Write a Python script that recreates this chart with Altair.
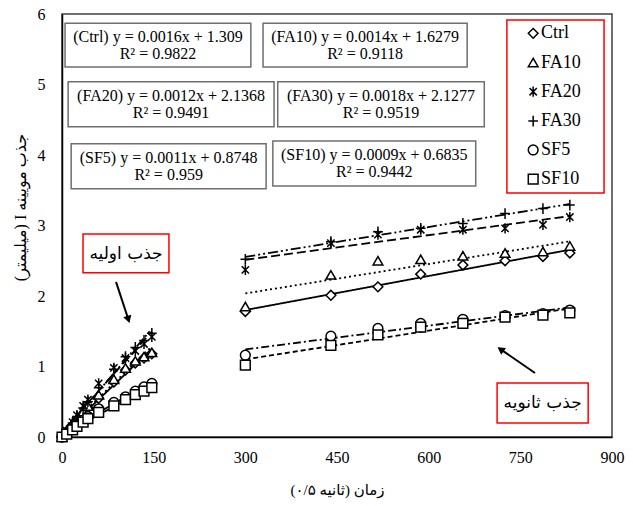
import altair as alt
import pandas as pd

# Capillary absorption I (mm) against square root of time (s^0.5)
series = ["Ctrl", "FA10", "FA20", "FA30", "SF5", "SF10"]

t_initial = [0, 7.7, 17.3, 24.5, 34.6, 42.4, 60.0, 84.9, 103.9, 120.0, 134.2, 147.0]
t_later = [300, 440, 517, 587, 656, 725, 787, 831]

I_initial = {
    "Ctrl": [0, 0.07, 0.17, 0.24, 0.33, 0.41, 0.55, 0.78, 0.95, 1.05, 1.12, 1.18],
    "FA10": [0, 0.08, 0.18, 0.26, 0.36, 0.44, 0.60, 0.82, 0.98, 1.08, 1.14, 1.20],
    "FA20": [0, 0.09, 0.21, 0.31, 0.44, 0.53, 0.76, 0.98, 1.12, 1.22, 1.32, 1.42],
    "FA30": [0, 0.09, 0.20, 0.29, 0.41, 0.50, 0.70, 0.96, 1.14, 1.27, 1.37, 1.47],
    "SF5":  [0, 0.05, 0.12, 0.17, 0.24, 0.29, 0.40, 0.49, 0.57, 0.65, 0.71, 0.76],
    "SF10": [0, 0.04, 0.10, 0.15, 0.21, 0.26, 0.35, 0.44, 0.53, 0.60, 0.65, 0.70],
}
I_later = {
    "Ctrl": [1.78, 2.01, 2.13, 2.31, 2.44, 2.50, 2.56, 2.61],
    "FA10": [1.85, 2.30, 2.50, 2.52, 2.57, 2.61, 2.63, 2.71],
    "FA20": [2.37, 2.75, 2.87, 2.94, 2.94, 2.96, 3.01, 3.12],
    "FA30": [2.52, 2.77, 2.91, 2.96, 3.03, 3.17, 3.24, 3.29],
    "SF5":  [1.16, 1.43, 1.54, 1.61, 1.67, 1.72, 1.75, 1.80],
    "SF10": [1.02, 1.30, 1.45, 1.56, 1.61, 1.70, 1.73, 1.76],
}

eq_line1 = [
    "(Ctrl) y = 0.0016x + 1.309",
    "(FA10) y = 0.0014x + 1.6279",
    "(FA20) y = 0.0012x + 2.1368",
    "(FA30) y = 0.0018x + 2.1277",
    "(SF5) y = 0.0011x + 0.8748",
    "(SF10) y = 0.0009x + 0.6835",
]
eq_line2 = ["R² = 0.9822", "R² = 0.9118", "R² = 0.9491", "R² = 0.9519", "R² = 0.959", "R² = 0.9442"]

# equation box placement (data units)
eq_x = [5, 329, 10, 353, 15, 345]
eq_x2 = [309, 663, 347, 691, 334, 677]
eq_y = [5.25, 5.25, 4.40, 4.40, 3.52, 3.56]
eq_y2 = [5.87, 5.87, 5.04, 5.04, 4.16, 4.20]

# legend placement (data units)
legend_y = [5.726, 5.312, 4.898, 4.482, 4.071, 3.657]

# marker shapes and line dashes per mix
ASTERISK = "M-0.75,-0.75L0.75,0.75M-0.75,0.75L0.75,-0.75M0,-1.05L0,1.05"
PLUS = "M-1,0L1,0M0,-1.1L0,1.1"
shapes = ["diamond", "triangle-up", ASTERISK, PLUS, "circle", "square"]
dashes = [[1, 0], [2, 3], [9, 4], [10, 3, 2, 3, 2, 3], [8, 3, 2, 3], [5, 3]]

rows = []
for s in series:
    for t, v in zip(t_initial, I_initial[s]):
        rows.append({"series": s, "phase": "initial", "t": t, "I": v})
    for t, v in zip(t_later, I_later[s]):
        rows.append({"series": s, "phase": "later", "t": t, "I": v})
df = pd.DataFrame(rows)

eq_df = pd.DataFrame({
    "series": series, "l1": eq_line1, "l2": eq_line2,
    "x": eq_x, "x2": eq_x2, "y": eq_y, "y2": eq_y2,
})
eq_df["cx"] = (eq_df["x"] + eq_df["x2"]) / 2
eq_df["cy"] = (eq_df["y"] + eq_df["y2"]) / 2

leg_df = pd.DataFrame({"series": series, "ly": legend_y})

SERIF = "Liberation Serif"
ARABIC = "DejaVu Sans"
MIXED = "Liberation Serif, DejaVu Sans"

xs = alt.Scale(domain=[0, 900], nice=False, zero=True)
ys = alt.Scale(domain=[0, 6], nice=False, zero=True)
x_axis = alt.Axis(values=[0, 150, 300, 450, 600, 750, 900], labelPadding=12, labelFlush=False,
                  title="\u202bزمان (ثانیه ۰/۵)\u202c", titlePadding=17, titleFontSize=15)
y_axis = alt.Axis(values=[0, 1, 2, 3, 4, 5, 6], labelPadding=17, labelFlush=False,
                  title="\u202bجذب مویینه I (میلیمتر)\u202c", titleFontSize=16,
                  titleX=-42, titleY=193, titleAngle=270, titleAlign="center",
                  titleBaseline="middle")


def X(field):
    return alt.X(field, type="quantitative", scale=xs, axis=x_axis)


def Y(field):
    return alt.Y(field, type="quantitative", scale=ys, axis=y_axis)


shape_enc = alt.Shape("series:N", scale=alt.Scale(domain=series, range=shapes), legend=None)
dash_enc = alt.StrokeDash("series:N", scale=alt.Scale(domain=series, range=dashes), legend=None)

base = alt.Chart(df)

trend = base.transform_regression(
    "t", "I", groupby=["series", "phase"], method="linear"
).mark_line(color="black", strokeWidth=1.8).encode(
    x=X("t"), y=Y("I"), strokeDash=dash_enc, detail="phase:N"
)

points = base.mark_point(
    filled=True, fill="white", stroke="black", strokeWidth=1.5, size=95, opacity=1
).encode(x=X("t"), y=Y("I"), shape=shape_enc)

eq_boxes = alt.Chart(eq_df).mark_rect(
    fill="white", stroke="#6f6f6f", strokeWidth=1.5
).encode(x=X("x"), x2="x2", y=Y("y"), y2="y2")

eq_t1 = alt.Chart(eq_df).mark_text(
    font=SERIF, fontSize=16, dy=-8, baseline="middle", align="center", color="black"
).encode(x=X("cx"), y=Y("cy"), text="l1:N")

eq_t2 = alt.Chart(eq_df).mark_text(
    font=SERIF, fontSize=16, dy=9, baseline="middle", align="center", color="black"
).encode(x=X("cx"), y=Y("cy"), text="l2:N")

# legend frame, symbols and names
leg_box = alt.Chart(pd.DataFrame({"x": [728], "x2": [887], "y": [3.46], "y2": [5.915]})).mark_rect(
    fill="white", stroke="#ff0000", strokeWidth=1.5
).encode(x=X("x"), x2="x2", y=Y("y"), y2="y2")

leg_pts = alt.Chart(leg_df).mark_point(
    filled=True, fill="white", stroke="black", strokeWidth=1.5, size=95, opacity=1
).encode(x=X("lx"), y=Y("ly"), shape=shape_enc).transform_calculate(lx="771")

leg_txt = alt.Chart(leg_df).mark_text(
    font=SERIF, fontSize=18, align="left", baseline="middle", color="black"
).encode(x=X("lx"), y=Y("ly"), text="series:N").transform_calculate(lx="784")

# callouts for the two absorption stages
notes = pd.DataFrame({
    "label": ["جذب اولیه", "جذب ثانویه"],
    "x": [34.4, 712], "x2": [175, 861], "y": [2.33, 0.199], "y2": [2.88, 0.766],
    "tx": [104.7, 786.5], "ty": [2.60, 0.48],
})

note_box = alt.Chart(notes).mark_rect(fill="white", stroke="#ff0000", strokeWidth=1.5).encode(
    x=X("x"), x2="x2", y=Y("y"), y2="y2"
)
note_txt = alt.Chart(notes).mark_text(
    font=ARABIC, fontSize=17, align="center", baseline="middle", color="black"
).encode(x=X("tx"), y=Y("ty"), text="label:N")


def arrow(x0, y0, x1, y1, ang):
    seg = pd.DataFrame({"x0": [x0], "y0": [y0], "x1": [x1], "y1": [y1]})
    line = alt.Chart(seg).mark_rule(color="black", strokeWidth=2).encode(
        x=X("x0"), y=Y("y0"), x2="x1", y2="y1"
    )
    head = alt.Chart(seg).mark_point(
        shape="triangle-up", filled=True, fill="black", stroke="black", strokeWidth=1,
        size=45, opacity=1, angle=ang
    ).encode(x=X("x1"), y=Y("y1"))
    return line + head


arrow1 = arrow(88.4, 2.20, 108.5, 1.67, 161.5)
arrow2 = arrow(774, 0.908, 718, 1.242, 304.8)

chart = alt.layer(
    trend, points, eq_boxes, eq_t1, eq_t2, leg_box, leg_pts, leg_txt,
    note_box, note_txt, arrow1, arrow2,
).properties(
    width=550, height=423,
    autosize=alt.AutoSizeParams(type="none"),
    padding={"left": 62, "top": 14, "right": 21, "bottom": 69},
    background="white",
).configure_view(
    stroke="#404040", strokeWidth=1.5
).configure_axis(
    grid=False, ticks=False, domainColor="black", domainWidth=1.5,
    labelFont=SERIF, labelFontSize=16, labelColor="black",
    titleFont=MIXED, titleFontWeight="normal", titleColor="black",
)

chart.save("out.html", embed_options={"renderer": "svg", "actions": False})
